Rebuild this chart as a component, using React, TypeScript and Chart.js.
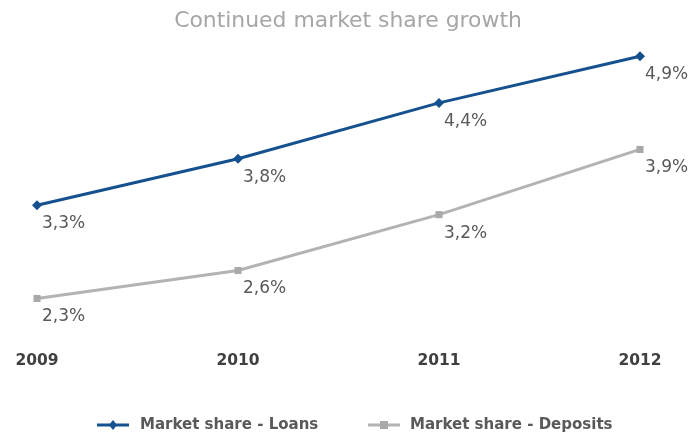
import React, { useEffect, useRef } from "react";
import { Chart, registerables } from "chart.js";

Chart.register(...registerables);

const categories = ["2009", "2010", "2011", "2012"];
const loans = [3.3, 3.8, 4.4, 4.9];
const deposits = [2.3, 2.6, 3.2, 3.9];
const seriesNames = ["Market share - Loans", "Market share - Deposits"];
const title = "Continued market share growth";

const COND = '"DejaVu Sans Condensed", "DejaVu Sans", sans-serif';
const SANS = '"DejaVu Sans", sans-serif';
const BLUE = "#15508f";
const GRAY = "#b3b3b3";
const GRAY_MK = "#a9a9a9";

const fmt = (v: number) => v.toFixed(1).replace(".", ",") + "%";

const labelPlugin = {
  id: "pointLabels",
  afterDatasetsDraw(chart: any) {
    const ctx = chart.ctx;
    ctx.save();
    ctx.font = `17px ${SANS}`;
    ctx.fillStyle = "#595959";
    ctx.textAlign = "center";
    ctx.textBaseline = "middle";
    chart.data.datasets.forEach((ds: any, i: number) => {
      const meta = chart.getDatasetMeta(i);
      meta.data.forEach((pt: any, j: number) => {
        ctx.fillText(fmt(ds.data[j]), pt.x + 26.5, pt.y + 18.5);
      });
    });
    ctx.restore();
  },
};

const titlePlugin = {
  id: "customTitle",
  afterDraw(chart: any) {
    const ctx = chart.ctx;
    ctx.save();
    ctx.font = `21.9px ${SANS}`;
    ctx.fillStyle = "#a6a6a6";
    ctx.textAlign = "center";
    ctx.textBaseline = "middle";
    ctx.fillText(title, 348, 21);
    ctx.restore();
  },
};

const legendPlugin = {
  id: "customLegend",
  afterDraw(chart: any) {
    const ctx = chart.ctx;
    ctx.save();
    const y = 425;
    const items = [
      { x: 97, color: BLUE, mk: BLUE, style: "diamond", text: seriesNames[0], tx: 140 },
      { x: 368, color: GRAY, mk: GRAY_MK, style: "square", text: seriesNames[1], tx: 410 },
    ];
    items.forEach((it) => {
      ctx.strokeStyle = it.color;
      ctx.lineWidth = 3;
      ctx.beginPath();
      ctx.moveTo(it.x, y);
      ctx.lineTo(it.x + 32, y);
      ctx.stroke();
      ctx.fillStyle = it.mk;
      const cx = it.x + 16;
      if (it.style === "diamond") {
        ctx.beginPath();
        ctx.moveTo(cx, y - 5);
        ctx.lineTo(cx + 4, y);
        ctx.lineTo(cx, y + 5);
        ctx.lineTo(cx - 4, y);
        ctx.closePath();
        ctx.fill();
      } else {
        ctx.fillRect(cx - 4, y - 4, 8, 8);
      }
      ctx.font = `bold 16.7px ${COND}`;
      ctx.fillStyle = "#595959";
      ctx.textAlign = "left";
      ctx.textBaseline = "middle";
      ctx.fillText(it.text, it.tx, y);
    });
    ctx.restore();
  },
};

export default function App() {
  const ref = useRef<HTMLCanvasElement | null>(null);
  useEffect(() => {
    if (!ref.current) return;
    const chart = new Chart(ref.current, {
      type: "line",
      data: {
        labels: categories,
        datasets: [
          {
            label: seriesNames[0],
            data: loans,
            borderColor: BLUE,
            backgroundColor: BLUE,
            borderWidth: 3,
            pointStyle: "rectRot",
            pointRadius: 5,
            pointBorderWidth: 0,
            tension: 0,
            clip: false as any,
          },
          {
            label: seriesNames[1],
            data: deposits,
            borderColor: GRAY,
            backgroundColor: GRAY_MK,
            borderWidth: 3,
            pointStyle: "rect",
            pointRadius: 5,
            pointBorderWidth: 0,
            tension: 0,
            clip: false as any,
          },
        ],
      },
      options: {
        animation: false,
        responsive: true,
        maintainAspectRatio: false,
        layout: { padding: { left: 37, right: 53, top: 47, bottom: 41 } },
        plugins: {
          legend: { display: false },
          tooltip: { enabled: false },
          title: { display: false },
        },
        scales: {
          x: {
            offset: false,
            grid: { display: false, drawTicks: false },
            border: { display: false },
            afterFit: (scale: any) => {
              scale.paddingLeft = 0;
              scale.paddingRight = 0;
            },
            ticks: {
              padding: 25,
              color: "#404040",
              font: { family: SANS, size: 15.5, weight: "bold" },
            },
          },
          y: {
            display: false,
            min: 2.0,
            max: 5.0,
          },
        },
      },
      plugins: [labelPlugin, titlePlugin, legendPlugin],
    });
    return () => chart.destroy();
  }, []);
  return (
    <div style={{ position: "fixed", left: 0, top: 0, width: 693, height: 436, background: "#fff" }}>
      <canvas ref={ref} />
    </div>
  );
}
